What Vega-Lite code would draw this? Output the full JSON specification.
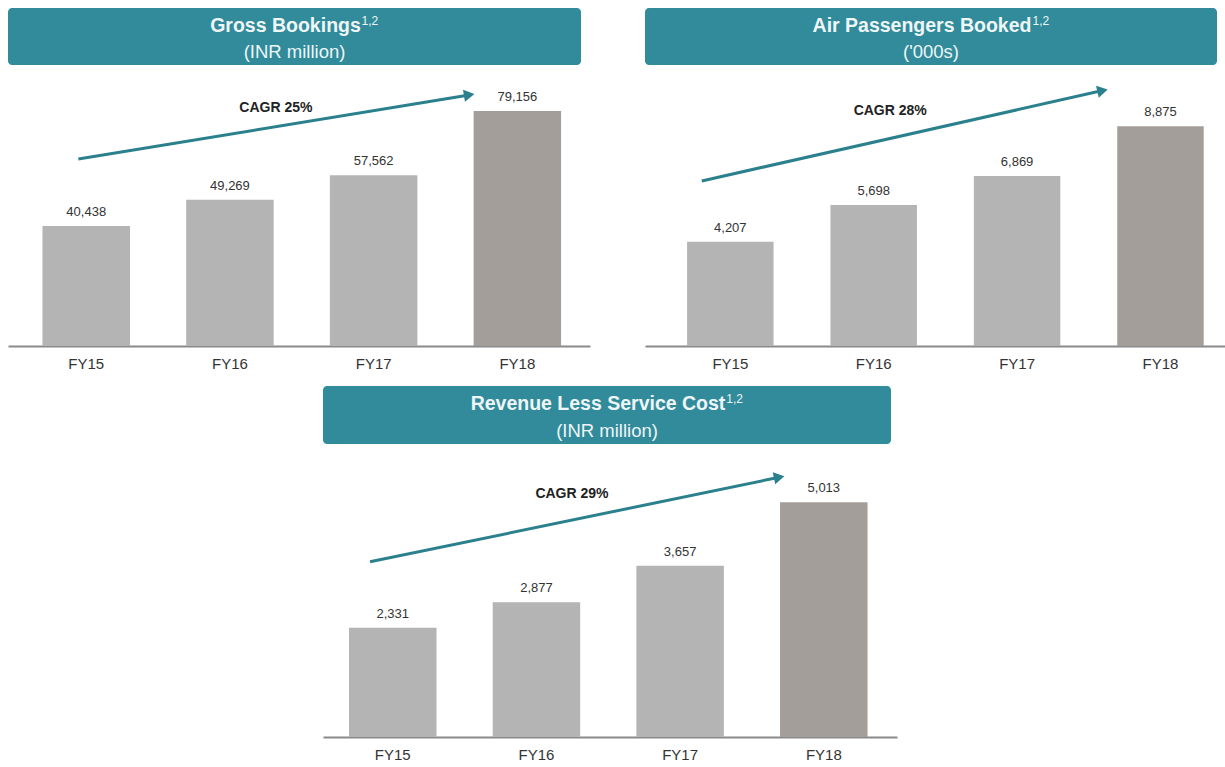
{
  "$schema": "https://vega.github.io/schema/vega-lite/v6.json",
  "padding": {"left": 8, "top": 8, "right": 0, "bottom": 0},
  "background": "white",
  "config": {
    "view": {"stroke": null},
    "font": "Liberation Sans",
    "axis": {"grid": false}
  },
  "datasets": {
    "bars": [
      {"panel": "gross", "fy": "FY15", "value": 40438},
      {"panel": "gross", "fy": "FY16", "value": 49269},
      {"panel": "gross", "fy": "FY17", "value": 57562},
      {"panel": "gross", "fy": "FY18", "value": 79156},
      {"panel": "air", "fy": "FY15", "value": 4207},
      {"panel": "air", "fy": "FY16", "value": 5698},
      {"panel": "air", "fy": "FY17", "value": 6869},
      {"panel": "air", "fy": "FY18", "value": 8875},
      {"panel": "rev", "fy": "FY15", "value": 2331},
      {"panel": "rev", "fy": "FY16", "value": 2877},
      {"panel": "rev", "fy": "FY17", "value": 3657},
      {"panel": "rev", "fy": "FY18", "value": 5013}
    ],
    "cagr": [
      {"panel": "gross", "label": "CAGR 25%", "at": "FY16", "labelValue": 80200, "from": "FY15", "to": "FY18", "startValue": 63000, "endValue": 84600},
      {"panel": "air", "label": "CAGR 28%", "at": "FY16", "labelValue": 9490, "from": "FY15", "to": "FY18", "startValue": 6670, "endValue": 10320},
      {"panel": "rev", "label": "CAGR 29%", "at": "FY16", "labelValue": 5190, "from": "FY15", "to": "FY18", "startValue": 3740, "endValue": 5545}
    ],
    "titles": [
      {"panel": "gross", "title": "Gross Bookings", "note": "1,2", "unit": "(INR million)"},
      {"panel": "air", "title": "Air Passengers Booked", "note": "1,2", "unit": "('000s)"},
      {"panel": "rev", "title": "Revenue Less Service Cost", "note": "1,2", "unit": "(INR million)"}
    ]
  },
  "vconcat": [
    {
      "hconcat": [
        {
          "vconcat": [
            {
              "width": 573, "height": 57,
              "view": {"fill": "#318b9b", "cornerRadius": 4, "stroke": null},
              "data": {"name": "titles"},
              "transform": [{"filter": "datum.panel === 'gross'"}],
              "layer": [
                {"mark": {"type": "text", "fontSize": 19.5, "fontWeight": "bold", "color": "#eef6f7", "align": "center", "baseline": "alphabetic", "dx": -9, "dy": -5}, "encoding": {"text": {"field": "title"}}},
                {"mark": {"type": "text", "fontSize": 12, "color": "#eef6f7", "align": "left", "baseline": "alphabetic", "dx": 67, "dy": -12}, "encoding": {"text": {"field": "note"}}},
                {"mark": {"type": "text", "fontSize": 18.5, "color": "#eef6f7", "align": "center", "baseline": "alphabetic", "dy": 21.5}, "encoding": {"text": {"field": "unit"}}}
              ]
            },
            {
              "width": 582, "height": 273,
              "layer": [
                {
                  "data": {"name": "bars"},
                  "transform": [{"filter": "datum.panel === 'gross'"}],
                  "mark": {"type": "bar"},
                  "encoding": {
                    "x": {"field": "fy", "type": "nominal", "sort": null, "title": null,
                      "scale": {"domain": ["FY15", "FY16", "FY17", "FY18"], "paddingInner": 0.391, "paddingOuter": 0.2205, "align": 0.544},
                      "axis": {"title": null, "labelAngle": 0, "ticks": false, "tickSize": 0, "labelPadding": 10, "labelFontSize": 15, "labelColor": "#333333", "domainColor": "#8a8a8a", "domainWidth": 2}},
                    "y": {"field": "value", "type": "quantitative", "title": null, "scale": {"domain": [0, 92000], "nice": false, "zero": true}, "axis": null},
                    "color": {"field": "fy", "type": "nominal", "scale": {"domain": ["FY15", "FY16", "FY17", "FY18"], "range": ["#b4b4b4", "#b4b4b4", "#b4b4b4", "#a49e9b"]}, "legend": null}
                  }
                },
                {
                  "data": {"name": "bars"},
                  "transform": [{"filter": "datum.panel === 'gross'"}],
                  "mark": {"type": "text", "fontSize": 13, "color": "#333333", "baseline": "alphabetic", "dy": -10},
                  "encoding": {
                    "x": {"field": "fy", "type": "nominal", "sort": null, "title": null},
                    "y": {"field": "value", "type": "quantitative", "title": null},
                    "text": {"field": "value", "type": "quantitative", "format": ","}
                  }
                },
                {
                  "data": {"name": "cagr"},
                  "transform": [{"filter": "datum.panel === 'gross'"}],
                  "mark": {"type": "rule", "color": "#2b808d", "strokeWidth": 3},
                  "encoding": {
                    "x": {"field": "from", "type": "nominal", "bandPosition": 0.41, "title": null},
                    "x2": {"field": "to", "bandPosition": -0.05},
                    "y": {"field": "startValue", "type": "quantitative", "title": null},
                    "y2": {"field": "endValue"}
                  }
                },
                {
                  "data": {"name": "cagr"},
                  "transform": [{"filter": "datum.panel === 'gross'"}],
                  "mark": {"type": "point", "shape": "triangle-right", "filled": true, "opacity": 1, "color": "#2b808d", "size": 150, "angle": 350.7},
                  "encoding": {
                    "x": {"field": "to", "type": "nominal", "bandPosition": -0.05, "title": null},
                    "y": {"field": "endValue", "type": "quantitative", "title": null}
                  }
                },
                {
                  "data": {"name": "cagr"},
                  "transform": [{"filter": "datum.panel === 'gross'"}],
                  "mark": {"type": "text", "fontSize": 14, "fontWeight": "bold", "color": "#222222", "baseline": "middle", "dx": 46},
                  "encoding": {
                    "x": {"field": "at", "type": "nominal", "title": null},
                    "y": {"field": "labelValue", "type": "quantitative", "title": null},
                    "text": {"field": "label"}
                  }
                }
              ]
            }
          ],
          "spacing": 8
        },
        {
          "vconcat": [
            {
              "width": 572, "height": 57,
              "view": {"fill": "#318b9b", "cornerRadius": 4, "stroke": null},
              "data": {"name": "titles"},
              "transform": [{"filter": "datum.panel === 'air'"}],
              "layer": [
                {"mark": {"type": "text", "fontSize": 19.5, "fontWeight": "bold", "color": "#eef6f7", "align": "center", "baseline": "alphabetic", "dx": -9, "dy": -5}, "encoding": {"text": {"field": "title"}}},
                {"mark": {"type": "text", "fontSize": 12, "color": "#eef6f7", "align": "left", "baseline": "alphabetic", "dx": 101.5, "dy": -12}, "encoding": {"text": {"field": "note"}}},
                {"mark": {"type": "text", "fontSize": 18.5, "color": "#eef6f7", "align": "center", "baseline": "alphabetic", "dy": 21.5}, "encoding": {"text": {"field": "unit"}}}
              ]
            },
            {
              "width": 580, "height": 273,
              "layer": [
                {
                  "data": {"name": "bars"},
                  "transform": [{"filter": "datum.panel === 'air'"}],
                  "mark": {"type": "bar"},
                  "encoding": {
                    "x": {"field": "fy", "type": "nominal", "sort": null, "title": null,
                      "scale": {"domain": ["FY15", "FY16", "FY17", "FY18"], "paddingInner": 0.397, "paddingOuter": 0.221, "align": 0.664},
                      "axis": {"title": null, "labelAngle": 0, "ticks": false, "tickSize": 0, "labelPadding": 10, "labelFontSize": 15, "labelColor": "#333333", "domainColor": "#8a8a8a", "domainWidth": 2}},
                    "y": {"field": "value", "type": "quantitative", "title": null, "scale": {"domain": [0, 11030], "nice": false, "zero": true}, "axis": null},
                    "color": {"field": "fy", "type": "nominal", "scale": {"domain": ["FY15", "FY16", "FY17", "FY18"], "range": ["#b4b4b4", "#b4b4b4", "#b4b4b4", "#a49e9b"]}, "legend": null}
                  }
                },
                {
                  "data": {"name": "bars"},
                  "transform": [{"filter": "datum.panel === 'air'"}],
                  "mark": {"type": "text", "fontSize": 13, "color": "#333333", "baseline": "alphabetic", "dy": -10},
                  "encoding": {
                    "x": {"field": "fy", "type": "nominal", "sort": null, "title": null},
                    "y": {"field": "value", "type": "quantitative", "title": null},
                    "text": {"field": "value", "type": "quantitative", "format": ","}
                  }
                },
                {
                  "data": {"name": "cagr"},
                  "transform": [{"filter": "datum.panel === 'air'"}],
                  "mark": {"type": "rule", "color": "#2b808d", "strokeWidth": 3},
                  "encoding": {
                    "x": {"field": "from", "type": "nominal", "bandPosition": 0.17, "title": null},
                    "x2": {"field": "to", "bandPosition": -0.17},
                    "y": {"field": "startValue", "type": "quantitative", "title": null},
                    "y2": {"field": "endValue"}
                  }
                },
                {
                  "data": {"name": "cagr"},
                  "transform": [{"filter": "datum.panel === 'air'"}],
                  "mark": {"type": "point", "shape": "triangle-right", "filled": true, "opacity": 1, "color": "#2b808d", "size": 150, "angle": 347.2},
                  "encoding": {
                    "x": {"field": "to", "type": "nominal", "bandPosition": -0.17, "title": null},
                    "y": {"field": "endValue", "type": "quantitative", "title": null}
                  }
                },
                {
                  "data": {"name": "cagr"},
                  "transform": [{"filter": "datum.panel === 'air'"}],
                  "mark": {"type": "text", "fontSize": 14, "fontWeight": "bold", "color": "#222222", "baseline": "middle", "dx": 16.5},
                  "encoding": {
                    "x": {"field": "at", "type": "nominal", "title": null},
                    "y": {"field": "labelValue", "type": "quantitative", "title": null},
                    "text": {"field": "label"}
                  }
                }
              ]
            }
          ],
          "spacing": 8
        }
      ],
      "spacing": 55
    },
    {
      "hconcat": [
        {
          "width": 295, "height": 1,
          "data": {"values": [{"blank": 0}]},
          "mark": {"type": "point", "opacity": 0},
          "encoding": {}
        },
        {
          "vconcat": [
            {
              "width": 568, "height": 58,
              "view": {"fill": "#318b9b", "cornerRadius": 4, "stroke": null},
              "data": {"name": "titles"},
              "transform": [{"filter": "datum.panel === 'rev'"}],
              "layer": [
                {"mark": {"type": "text", "fontSize": 19.5, "fontWeight": "bold", "color": "#eef6f7", "align": "center", "baseline": "alphabetic", "dx": -9, "dy": -5}, "encoding": {"text": {"field": "title"}}},
                {"mark": {"type": "text", "fontSize": 12, "color": "#eef6f7", "align": "left", "baseline": "alphabetic", "dx": 119.3, "dy": -12}, "encoding": {"text": {"field": "note"}}},
                {"mark": {"type": "text", "fontSize": 18.5, "color": "#eef6f7", "align": "center", "baseline": "alphabetic", "dy": 21.5}, "encoding": {"text": {"field": "unit"}}}
              ]
            },
            {
              "width": 574, "height": 285,
              "layer": [
                {
                  "data": {"name": "bars"},
                  "transform": [{"filter": "datum.panel === 'rev'"}],
                  "mark": {"type": "bar"},
                  "encoding": {
                    "x": {"field": "fy", "type": "nominal", "sort": null, "title": null,
                      "scale": {"domain": ["FY15", "FY16", "FY17", "FY18"], "paddingInner": 0.391, "paddingOuter": 0.193, "align": 0.469},
                      "axis": {"title": null, "labelAngle": 0, "ticks": false, "tickSize": 0, "labelPadding": 10, "labelFontSize": 15, "labelColor": "#333333", "domainColor": "#8a8a8a", "domainWidth": 2}},
                    "y": {"field": "value", "type": "quantitative", "title": null, "scale": {"domain": [0, 6085], "nice": false, "zero": true}, "axis": null},
                    "color": {"field": "fy", "type": "nominal", "scale": {"domain": ["FY15", "FY16", "FY17", "FY18"], "range": ["#b4b4b4", "#b4b4b4", "#b4b4b4", "#a49e9b"]}, "legend": null}
                  }
                },
                {
                  "data": {"name": "bars"},
                  "transform": [{"filter": "datum.panel === 'rev'"}],
                  "mark": {"type": "text", "fontSize": 13, "color": "#333333", "baseline": "alphabetic", "dy": -10},
                  "encoding": {
                    "x": {"field": "fy", "type": "nominal", "sort": null, "title": null},
                    "y": {"field": "value", "type": "quantitative", "title": null},
                    "text": {"field": "value", "type": "quantitative", "format": ","}
                  }
                },
                {
                  "data": {"name": "cagr"},
                  "transform": [{"filter": "datum.panel === 'rev'"}],
                  "mark": {"type": "rule", "color": "#2b808d", "strokeWidth": 3},
                  "encoding": {
                    "x": {"field": "from", "type": "nominal", "bandPosition": 0.24, "title": null},
                    "x2": {"field": "to", "bandPosition": -0.01},
                    "y": {"field": "startValue", "type": "quantitative", "title": null},
                    "y2": {"field": "endValue"}
                  }
                },
                {
                  "data": {"name": "cagr"},
                  "transform": [{"filter": "datum.panel === 'rev'"}],
                  "mark": {"type": "point", "shape": "triangle-right", "filled": true, "opacity": 1, "color": "#2b808d", "size": 150, "angle": 348.3},
                  "encoding": {
                    "x": {"field": "to", "type": "nominal", "bandPosition": -0.01, "title": null},
                    "y": {"field": "endValue", "type": "quantitative", "title": null}
                  }
                },
                {
                  "data": {"name": "cagr"},
                  "transform": [{"filter": "datum.panel === 'rev'"}],
                  "mark": {"type": "text", "fontSize": 14, "fontWeight": "bold", "color": "#222222", "baseline": "middle", "dx": 35.5},
                  "encoding": {
                    "x": {"field": "at", "type": "nominal", "title": null},
                    "y": {"field": "labelValue", "type": "quantitative", "title": null},
                    "text": {"field": "label"}
                  }
                }
              ]
            }
          ],
          "spacing": 8
        }
      ],
      "spacing": 20
    }
  ],
  "spacing": 12
}
